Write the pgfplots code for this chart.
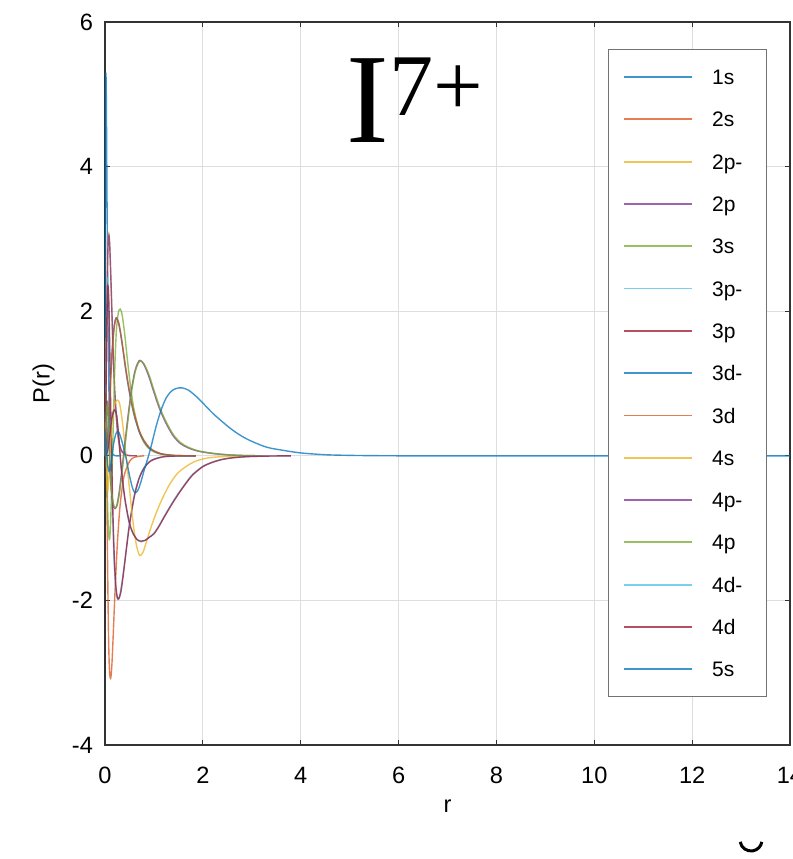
\documentclass[border=0pt]{standalone}
\usepackage{pgfplots}
\pgfplotsset{compat=1.18}
\usepackage{fontspec}
\setmainfont{Liberation Sans}
\newfontfamily\titlefont{Liberation Serif}
\definecolor{c1}{RGB}{0,114,189}
\definecolor{c2}{RGB}{217,83,25}
\definecolor{c3}{RGB}{237,177,32}
\definecolor{c4}{RGB}{126,47,142}
\definecolor{c5}{RGB}{119,172,48}
\definecolor{c6}{RGB}{77,190,238}
\definecolor{c7}{RGB}{162,20,47}
\newcommand{\lgent}[1]{\makebox[19.5pt][l]{#1}}
\begin{document}
\begin{tikzpicture}
\begin{axis}[
  at={(0,0)}, anchor=south west,
  scale only axis, width=342.5pt, height=361.5pt,
  xmin=0, xmax=14, ymin=-4, ymax=6,
  xtick={0,2,...,14}, ytick={-4,-2,...,6},
  grid=major, major grid style={draw=black!13, line width=0.5pt},
  axis line style={draw=black!80, line width=0.6pt},
  tick style={draw=black!80, line width=0.6pt},
  tick align=inside, major tick length=2.5pt,
  font=\fontsize{11.8}{14}\selectfont,
  /pgf/number format/assume math mode=true,
  xticklabel style={yshift=-7.5pt},
  yticklabel style={xshift=-2.5pt},
  xlabel={r}, ylabel={P(r)},
  xlabel style={at={(axis description cs:0.5,-0.0844)}, anchor=center},
  ylabel style={at={(axis description cs:-0.0898,0.5)}, anchor=center},
  every axis plot/.append style={line width=0.7pt, opacity=0.75, smooth, tension=0.5},
  legend style={at={(0.7343,0.9627)}, anchor=north west, draw=black!55, line width=0.5pt, fill=white,
    inner xsep=7.5pt, inner ysep=10pt, row sep=13.55pt, font=\fontsize{10.5}{12}\selectfont,
    nodes={inner sep=0pt, text height=7.6pt, text depth=0pt}},
  legend image code/.code={\draw[#1, line width=0.9pt] (0pt,0pt) -- (34pt,0pt); \path (43.5pt,0pt);},
]
% 1s
\addplot[c1] coordinates {(0,0) (0.002,0.8) (0.005,2.96) (0.01,4.54) (0.015,5.15) (0.019,5.3) (0.025,5.1) (0.03,4.72) (0.04,3.71) (0.05,2.73) (0.06,1.95) (0.07,1.32) (0.085,0.75) (0.1,0.385) (0.12,0.15) (0.15,0.027) (0.2,0.001) (0.3,0)};
\addlegendentry{\lgent{1s}}
% 2s
\addplot[c2] coordinates {(0,0) (0.004,1.0) (0.008,1.5) (0.012,1.55) (0.018,1.2) (0.025,0.6) (0.035,-0.2) (0.05,-1.3) (0.07,-2.4) (0.09,-2.95) (0.115,-3.08) (0.14,-2.9) (0.17,-2.45) (0.2,-1.95) (0.25,-1.25) (0.3,-0.75) (0.35,-0.45) (0.4,-0.25) (0.5,-0.08) (0.6,-0.02) (0.8,0)};
\addlegendentry{\lgent{2s}}
% 2p-
\addplot[c3] coordinates {(0,0) (0.01,0.32) (0.02,0.98) (0.03,1.65) (0.04,2.25) (0.05,2.68) (0.06,2.94) (0.075,3.07) (0.09,2.98) (0.1,2.85) (0.12,2.42) (0.14,1.96) (0.16,1.52) (0.18,1.14) (0.2,0.84) (0.25,0.35) (0.3,0.13) (0.35,0.05) (0.4,0.015) (0.5,0.002) (0.65,0)};
\addlegendentry{\lgent{2p-}}
% 2p
\addplot[c4] coordinates {(0,0) (0.01,0.28) (0.02,0.88) (0.03,1.53) (0.04,2.11) (0.05,2.56) (0.06,2.86) (0.07,3.01) (0.08,3.05) (0.09,2.99) (0.1,2.86) (0.12,2.47) (0.14,2.03) (0.16,1.58) (0.18,1.21) (0.2,0.9) (0.25,0.39) (0.3,0.15) (0.35,0.06) (0.4,0.02) (0.5,0.003) (0.65,0)};
\addlegendentry{\lgent{2p}}
% 3s
\addplot[c5] coordinates {(0,0) (0.005,0.5) (0.01,0.8) (0.018,0.85) (0.025,0.6) (0.035,0.1) (0.045,-0.4) (0.06,-0.85) (0.08,-1.12) (0.095,-1.15) (0.11,-1.0) (0.13,-0.6) (0.15,-0.1) (0.17,0.45) (0.2,1.2) (0.23,1.7) (0.27,1.97) (0.31,2.03) (0.35,1.95) (0.4,1.7) (0.45,1.38) (0.5,1.08) (0.55,0.82) (0.6,0.62) (0.7,0.34) (0.8,0.18) (0.9,0.1) (1.0,0.055) (1.1,0.03) (1.2,0.016) (1.4,0.005) (1.6,0.001) (1.85,0)};
\addlegendentry{\lgent{3s}}
% 3p-
\addplot[c6] coordinates {(0,0) (0.01,0.35) (0.02,1.0) (0.03,1.65) (0.045,2.3) (0.055,2.45) (0.07,2.25) (0.085,1.8) (0.1,1.2) (0.115,0.55) (0.135,-0.2) (0.155,-0.8) (0.185,-1.45) (0.215,-1.8) (0.245,-1.96) (0.27,-1.99) (0.31,-1.9) (0.35,-1.73) (0.4,-1.48) (0.45,-1.2) (0.5,-0.94) (0.6,-0.54) (0.7,-0.3) (0.8,-0.16) (0.9,-0.085) (1.0,-0.045) (1.2,-0.012) (1.5,-0.002) (1.85,0)};
\addlegendentry{\lgent{3p-}}
% 3p
\addplot[c7] coordinates {(0,0) (0.01,0.3) (0.02,0.9) (0.03,1.5) (0.045,2.1) (0.06,2.35) (0.075,2.2) (0.09,1.75) (0.105,1.15) (0.12,0.55) (0.14,-0.15) (0.16,-0.75) (0.19,-1.4) (0.22,-1.78) (0.25,-1.95) (0.28,-1.98) (0.32,-1.9) (0.36,-1.72) (0.4,-1.5) (0.45,-1.22) (0.5,-0.96) (0.6,-0.56) (0.7,-0.31) (0.8,-0.17) (0.9,-0.09) (1.0,-0.05) (1.2,-0.013) (1.5,-0.002) (1.85,0)};
\addlegendentry{\lgent{3p}}
% 3d-
\addplot[c1] coordinates {(0,0) (0.02,0.025) (0.05,0.22) (0.08,0.58) (0.1,0.86) (0.12,1.14) (0.15,1.5) (0.18,1.75) (0.21,1.88) (0.235,1.91) (0.28,1.83) (0.32,1.68) (0.36,1.5) (0.4,1.3) (0.45,1.07) (0.5,0.87) (0.55,0.7) (0.6,0.55) (0.7,0.33) (0.8,0.2) (0.9,0.11) (1.0,0.065) (1.1,0.037) (1.2,0.02) (1.4,0.005) (1.6,0.001) (1.85,0)};
\addlegendentry{\lgent{3d-}}
% 3d
\addplot[c2] coordinates {(0,0) (0.02,0.02) (0.05,0.2) (0.08,0.55) (0.1,0.82) (0.12,1.1) (0.15,1.46) (0.18,1.72) (0.21,1.86) (0.24,1.9) (0.28,1.84) (0.32,1.7) (0.36,1.52) (0.4,1.33) (0.45,1.1) (0.5,0.9) (0.55,0.72) (0.6,0.57) (0.7,0.35) (0.8,0.21) (0.9,0.12) (1.0,0.07) (1.1,0.04) (1.2,0.022) (1.4,0.006) (1.6,0.0015) (1.85,0)};
\addlegendentry{\lgent{3d}}
% 4s
\addplot[c3] coordinates {(0,0) (0.005,0.3) (0.01,0.42) (0.015,0.35) (0.025,0) (0.035,-0.3) (0.05,-0.48) (0.065,-0.45) (0.08,-0.3) (0.1,0) (0.13,0.35) (0.17,0.62) (0.21,0.74) (0.26,0.77) (0.3,0.72) (0.35,0.5) (0.4,0.2) (0.45,-0.12) (0.5,-0.45) (0.55,-0.78) (0.6,-1.06) (0.65,-1.26) (0.71,-1.38) (0.78,-1.33) (0.85,-1.18) (0.95,-0.97) (1.1,-0.7) (1.3,-0.42) (1.5,-0.23) (1.8,-0.09) (2.1,-0.03) (2.5,-0.008) (3.0,0)};
\addlegendentry{\lgent{4s}}
% 4p-
\addplot[c4] coordinates {(0,0) (0.01,0.12) (0.02,0.4) (0.035,0.7) (0.048,0.75) (0.062,0.62) (0.078,0.3) (0.098,-0.12) (0.128,-0.48) (0.165,-0.68) (0.205,-0.73) (0.245,-0.68) (0.295,-0.48) (0.345,-0.2) (0.395,0.1) (0.445,0.4) (0.495,0.68) (0.555,0.97) (0.615,1.18) (0.675,1.29) (0.72,1.32) (0.79,1.27) (0.89,1.11) (0.99,0.9) (1.11,0.66) (1.24,0.46) (1.39,0.28) (1.54,0.17) (1.7,0.11) (1.9,0.065) (2.2,0.032) (2.5,0.014) (2.8,0.005) (3.2,0)};
\addlegendentry{\lgent{4p-}}
% 4p
\addplot[c5] coordinates {(0,0) (0.01,0.1) (0.02,0.35) (0.035,0.65) (0.05,0.72) (0.065,0.6) (0.08,0.3) (0.1,-0.1) (0.13,-0.45) (0.17,-0.66) (0.21,-0.72) (0.25,-0.68) (0.3,-0.5) (0.35,-0.22) (0.4,0.08) (0.45,0.38) (0.5,0.66) (0.56,0.96) (0.62,1.17) (0.68,1.28) (0.73,1.31) (0.8,1.27) (0.9,1.12) (1.0,0.91) (1.12,0.67) (1.25,0.47) (1.4,0.29) (1.55,0.18) (1.7,0.12) (1.9,0.07) (2.2,0.035) (2.5,0.015) (2.8,0.005) (3.2,0)};
\addlegendentry{\lgent{4p}}
% 4d-
\addplot[c6] coordinates {(0,0) (0.05,0.07) (0.1,0.32) (0.14,0.54) (0.18,0.63) (0.205,0.64) (0.235,0.56) (0.265,0.37) (0.295,0.12) (0.325,-0.13) (0.365,-0.39) (0.415,-0.64) (0.495,-0.93) (0.575,-1.08) (0.655,-1.16) (0.735,-1.19) (0.815,-1.17) (0.9,-1.13) (1.0,-1.07) (1.1,-0.97) (1.2,-0.85) (1.33,-0.7) (1.45,-0.57) (1.55,-0.47) (1.7,-0.33) (1.8,-0.25) (2.0,-0.145) (2.2,-0.085) (2.4,-0.048) (2.6,-0.027) (2.9,-0.011) (3.3,-0.004) (3.8,0)};
\addlegendentry{\lgent{4d-}}
% 4d
\addplot[c7] coordinates {(0,0) (0.05,0.06) (0.1,0.3) (0.14,0.52) (0.18,0.62) (0.21,0.63) (0.24,0.55) (0.27,0.35) (0.3,0.1) (0.33,-0.15) (0.37,-0.4) (0.42,-0.65) (0.5,-0.93) (0.58,-1.08) (0.66,-1.16) (0.74,-1.18) (0.82,-1.17) (0.9,-1.13) (1.0,-1.08) (1.1,-0.98) (1.2,-0.86) (1.33,-0.71) (1.45,-0.58) (1.55,-0.48) (1.7,-0.34) (1.8,-0.26) (2.0,-0.15) (2.2,-0.09) (2.4,-0.05) (2.6,-0.028) (2.9,-0.012) (3.3,-0.004) (3.8,0)};
\addlegendentry{\lgent{4d}}
% 5s
\addplot[c1] coordinates {(0,0) (0.005,0.2) (0.012,0.3) (0.02,0.25) (0.03,0.1) (0.045,-0.05) (0.06,-0.15) (0.08,-0.21) (0.1,-0.2) (0.125,-0.1) (0.15,0.03) (0.18,0.18) (0.22,0.3) (0.26,0.34) (0.3,0.3) (0.35,0.19) (0.4,0.06) (0.44,-0.06) (0.5,-0.27) (0.56,-0.44) (0.61,-0.51) (0.67,-0.48) (0.73,-0.37) (0.8,-0.2) (0.89,0) (0.95,0.15) (1.05,0.42) (1.15,0.64) (1.25,0.8) (1.35,0.89) (1.45,0.93) (1.57,0.94) (1.7,0.91) (1.85,0.83) (2.0,0.73) (2.2,0.59) (2.4,0.47) (2.6,0.36) (2.8,0.27) (3.0,0.2) (3.3,0.12) (3.6,0.08) (4.0,0.04) (4.5,0.015) (5.0,0.006) (5.5,0.002) (6.0,0) (7,0) (8,0) (9,0) (10,0) (11,0) (12,0) (13,0) (14,0)};
\addlegendentry{\lgent{5s}}
\node[anchor=base west, inner sep=0pt] at (rel axis cs:0.3518,0.834) {\titlefont\fontsize{64}{64}\selectfont I\raisebox{13.5pt}{\fontsize{44}{44}\selectfont 7+}};
\end{axis}
\draw[line width=1.5pt] (317.6pt,-48.45pt) arc[start angle=190, end angle=350, radius=5.5pt];
\pgfresetboundingbox
\path[use as bounding box] (-52.5pt,-57pt) rectangle (344pt,372.5pt);
\end{tikzpicture}
\end{document}
